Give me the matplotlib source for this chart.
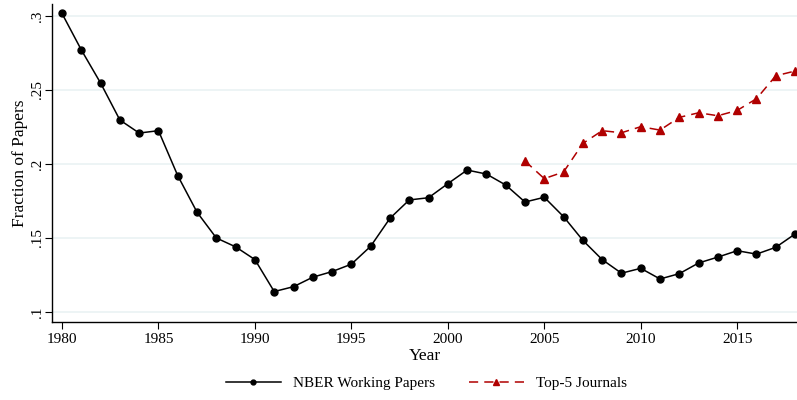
import matplotlib
matplotlib.use('Agg')
import matplotlib.pyplot as plt

plt.rcParams['font.family'] = ['Liberation Serif', 'DejaVu Serif']

years_nber = list(range(1980, 2019))
nber = [0.3016, 0.2770, 0.2546, 0.2296, 0.2208, 0.2224, 0.1920, 0.1673, 0.1499,
        0.1439, 0.1353, 0.1137, 0.1170, 0.1234, 0.1272, 0.1322, 0.1443, 0.1632,
        0.1756, 0.1771, 0.1866, 0.1958, 0.1931, 0.1857, 0.1742, 0.1774, 0.1643,
        0.1483, 0.1353, 0.1261, 0.1294, 0.1222, 0.1258, 0.1330, 0.1370, 0.1413,
        0.1390, 0.1436, 0.1526]

years_top5 = list(range(2004, 2019))
top5 = [0.2019, 0.1900, 0.1945, 0.2138, 0.2224, 0.2210, 0.2251, 0.2228, 0.2314,
        0.2345, 0.2325, 0.2361, 0.2440, 0.2595, 0.2627]

x_ticks = [1980, 1985, 1990, 1995, 2000, 2005, 2010, 2015]
y_ticks = [0.1, 0.15, 0.2, 0.25, 0.3]
y_labels = ['.1', '.15', '.2', '.25', '.3']

fig = plt.figure(figsize=(7.97, 4.0), dpi=100)
ax = fig.add_axes([0.0657, 0.196, 0.9343, 0.794])

ax.plot(years_nber, nber, color='black', lw=1.1, marker='o', ms=5,
        label='NBER Working Papers', zorder=3)
ax.plot(years_top5, top5, color='#B00000', lw=1.1, marker='^', ms=6,
        dashes=(6, 4), label='Top-5 Journals', zorder=3)

ax.set_xlim(1979.5, 2018.1)
ax.set_ylim(0.0934, 0.308)
ax.set_xticks(x_ticks)
ax.set_yticks(y_ticks)
ax.set_yticklabels(y_labels, rotation=90, va='center')
ax.tick_params(labelsize=11, direction='out', length=5, width=0.8, colors='black')
ax.tick_params(axis='y', pad=1)
ax.grid(axis='y', color='#EAF2F3', lw=1.2, zorder=0)
ax.grid(axis='x', visible=False)

for s in ['top', 'right']:
    ax.spines[s].set_visible(False)
for s in ['left', 'bottom']:
    ax.spines[s].set_linewidth(1.0)

ax.set_xlabel('Year', fontsize=12.5, labelpad=1)
ax.set_ylabel('Fraction of Papers', fontsize=12.5, labelpad=2)

fig.legend(loc='center', bbox_to_anchor=(0.535, 0.042), ncol=2, frameon=False,
           fontsize=11, handlelength=3.6, columnspacing=2.2, markerscale=0.7)

fig.savefig('out.png', dpi=100)
